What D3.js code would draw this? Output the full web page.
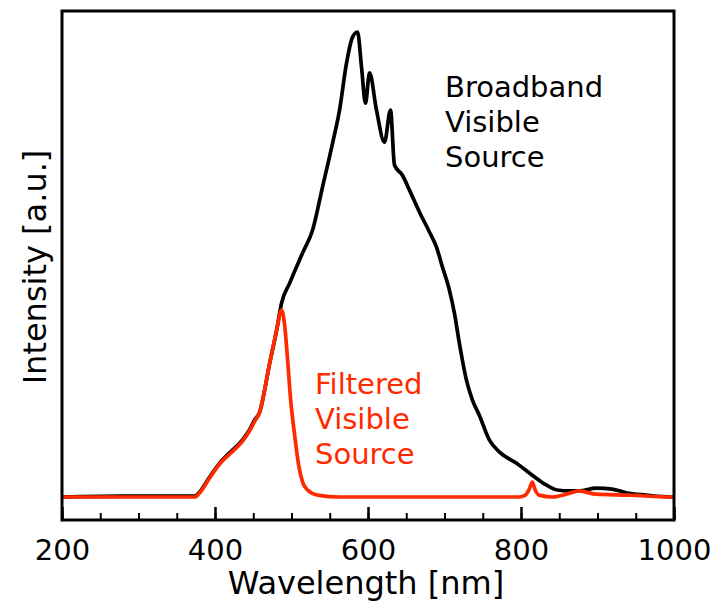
<!DOCTYPE html>
<html>
<head>
<meta charset="utf-8">
<script src="https://cdn.jsdelivr.net/npm/d3@7"></script>
<style>
  body { margin: 0; background: #fff; }
  b { font-weight: normal; }
  text { font-family: "DejaVu Sans", sans-serif; font-weight: normal; }
</style>
</head>
<body>
<b></b>
<script>
const width = 720, height = 612;

// broadband spectrum: wavelength [nm], normalised intensity
const broadWl = [200, 276, 374, 380, 393, 406, 419, 436, 445, 452, 458, 471.5, 480.6, 487, 497.6, 514.5, 527.6, 540.6, 553.7, 562.8, 571.9, 579.8, 586.3, 591.5, 596.7, 602, 611.1, 621.5, 629.4, 634.6, 645, 654.2, 667.2, 680.3, 689.4, 697.2, 706.4, 712.9, 719.4, 728.6, 736.4, 745.5, 758.6, 771.6, 793.8, 814.7, 833, 847.3, 863, 876, 898.2, 919.1, 937.4, 963.5, 997.4, 1000];
const broadI = [0, 0.002, 0.002, 0.011, 0.043, 0.073, 0.095, 0.123, 0.144, 0.166, 0.181, 0.288, 0.359, 0.417, 0.46, 0.525, 0.574, 0.667, 0.761, 0.832, 0.933, 0.989, 1.0, 0.925, 0.847, 0.912, 0.832, 0.763, 0.832, 0.714, 0.692, 0.66, 0.613, 0.57, 0.538, 0.495, 0.445, 0.396, 0.331, 0.252, 0.209, 0.176, 0.123, 0.097, 0.073, 0.047, 0.026, 0.015, 0.013, 0.013, 0.019, 0.017, 0.009, 0.004, 0, 0];

// filtered spectrum
const filtWl = [200, 374, 380, 393, 406, 419, 436, 445, 452, 458, 471.5, 480.6, 487, 491, 494.9, 498.9, 504.1, 509.3, 514.5, 521, 534.1, 562.8, 797.7, 805.5, 810.8, 814.7, 818.6, 823.8, 840.8, 859.1, 876, 898.2, 941.3, 997.4, 1000];
const filtI = [0, 0, 0.009, 0.041, 0.071, 0.092, 0.12, 0.142, 0.163, 0.181, 0.288, 0.359, 0.402, 0.37, 0.295, 0.209, 0.133, 0.069, 0.032, 0.015, 0.004, 0, 0, 0.004, 0.017, 0.032, 0.015, 0.004, 0, 0.006, 0.013, 0.006, 0.004, 0, 0];

const majorTicks = [200, 400, 600, 800, 1000];
const minorTicks = d3.range(200, 1001, 50);

const broadLabel = ["Broadband", "Visible", "Source"];
const filtLabel = ["Filtered", "Visible", "Source"];

const red = "#ff2a00";
const mLeft = 62, mRight = 674, mTop = 11, mBottom = 520;

const x = d3.scaleLinear().domain([200, 1000]).range([mLeft, mRight]);
const y = d3.scaleLinear().domain([0, 1]).range([497, 32]);

const svg = d3.select("b").append("svg")
.attr("width", width)
.attr("height", height)
.style("font-weight", "normal");

svg.append("clipPath").attr("id", "clip")
.append("rect")
.attr("x", mLeft).attr("y", mTop)
.attr("width", mRight - mLeft).attr("height", mBottom - mTop);

const line = d3.line()
.x(d => x(d[0]))
.y(d => y(d[1]))
.curve(d3.curveMonotoneX);

const plot = svg.append("g").attr("clip-path", "url(#clip)");

plot.append("path")
.datum(d3.zip(broadWl, broadI))
.attr("d", line)
.attr("fill", "none")
.attr("stroke", "#000")
.attr("stroke-width", 3.7)
.attr("stroke-linejoin", "round");

plot.append("path")
.datum(d3.zip(filtWl, filtI))
.attr("d", line)
.attr("fill", "none")
.attr("stroke", red)
.attr("stroke-width", 3.7)
.attr("stroke-linejoin", "round");

// minor ticks
svg.append("g")
.attr("transform", `translate(0,${mBottom})`)
.call(d3.axisBottom(x).tickValues(minorTicks).tickSize(-7).tickFormat(""))
.call(g => g.select(".domain").remove())
.selectAll("line").attr("stroke-width", 2);

// major ticks + labels
svg.append("g")
.attr("transform", `translate(0,${mBottom})`)
.call(d3.axisBottom(x).tickValues(majorTicks).tickSize(-13).tickPadding(19).tickFormat(d3.format("d")))
.call(g => g.select(".domain").remove())
.call(g => g.selectAll("line").attr("stroke-width", 2.5))
.call(g => g.selectAll("text")
  .attr("font-family", "DejaVu Sans")
  .attr("font-size", 29)
  .attr("fill", "#000"));

// frame
svg.append("rect")
.attr("x", mLeft).attr("y", mTop)
.attr("width", mRight - mLeft).attr("height", mBottom - mTop)
.attr("fill", "none")
.attr("stroke", "#000")
.attr("stroke-width", 3);

svg.append("text")
.attr("x", 366)
.attr("y", 594)
.attr("text-anchor", "middle")
.attr("font-size", 32)
.text("Wavelength [nm]");

svg.append("text")
.attr("transform", "translate(46,267) rotate(-90)")
.attr("text-anchor", "middle")
.attr("font-size", 32)
.text("Intensity [a.u.]");

svg.append("g")
.selectAll("text")
.data(broadLabel)
.join("text")
.attr("x", 445)
.attr("y", (d, i) => 97 + i * 35)
.attr("font-size", 29)
.text(d => d);

svg.append("g")
.selectAll("text")
.data(filtLabel)
.join("text")
.attr("x", 315)
.attr("y", (d, i) => 394 + i * 35)
.attr("font-size", 29)
.attr("fill", red)
.text(d => d);
</script>
</body>
</html>
